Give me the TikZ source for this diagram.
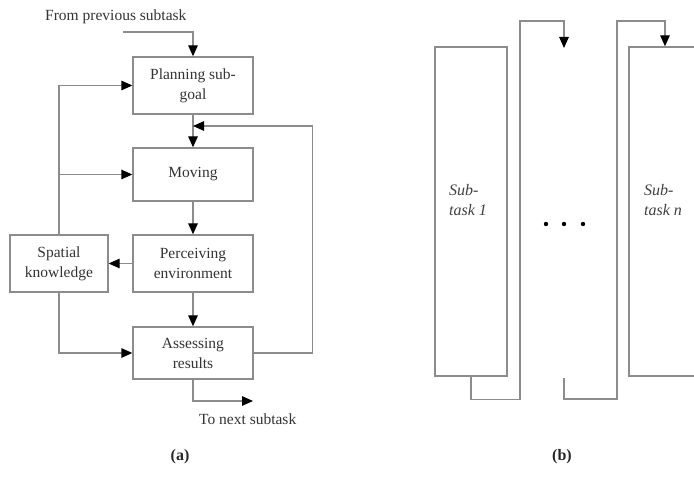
\documentclass[tikz,border=0pt]{standalone}
\usepackage{fontspec}
\setmainfont{Liberation Serif}
\usetikzlibrary{arrows.meta}
\begin{document}
\begin{tikzpicture}[x=1pt,y=-1pt,
  font=\fontsize{15.5}{20}\selectfont,
  line/.style={draw=black!45,line width=1.3pt},
  arr/.style={line,-{Triangle[length=11pt,width=9.5pt,color=black]}},
  block/.style={line,rectangle,inner sep=0pt,align=center,text=black!80},
  label/.style={inner sep=0pt,text=black!80},
  caption/.style={inner sep=0pt,text=black!85,font=\fontsize{16}{20}\selectfont\bfseries},
  stask/.style={inner sep=0pt,align=left,text=black!75,font=\fontsize{16}{20}\selectfont\itshape}]
\useasboundingbox (0,0) rectangle (694,489);

% ---------- (a) loop inside one subtask ----------
\node[block,minimum width=120pt,minimum height=57pt] (plan) at (193,85.5) {Planning sub-\\goal};
\node[block,minimum width=120pt,minimum height=53pt] (moving) at (193,174.5) {Moving};
\node[block,minimum width=120pt,minimum height=57pt] (perc) at (193,263.5) {Perceiving\\environment};
\node[block,minimum width=98pt,minimum height=57pt] (spatial) at (59,263.5) {Spatial\\knowledge};
\node[block,minimum width=120pt,minimum height=52pt] (assess) at (193,353) {Assessing\\results};

\node[label,anchor=west] (fromtxt) at (45,17) {From previous subtask};
\node[label,anchor=west] (totxt) at (199,419) {To next subtask};
\node[caption] (capa) at (180,457) {(a)};

\coordinate (entry) at (123,32);
\coordinate (back) at (193,126);
\coordinate (exit) at (253,401);

\draw[arr] (entry) -| (plan.north);
\draw[arr] (plan.south) -- (moving.north);
\draw[arr] (moving.south) -- (perc.north);
\draw[arr] (perc.south) -- (assess.north);
\draw[arr] (perc.west) -- (spatial.east);
\draw[arr] (spatial.north) |- (plan.west);
\draw[arr] (spatial.north |- moving.west) -- (moving.west);
\draw[arr] (spatial.south) |- (assess.west);
\draw[arr] (assess.east) -- ++(59,0) |- (back);
\draw[arr] (assess.south) |- (exit);

% ---------- (b) chain of subtasks ----------
\node[block,minimum width=72pt,minimum height=329pt] (sub1) at (471,211.5) {};
\node[block,minimum width=131pt,minimum height=329pt] (subn) at (694.5,211.5) {};
\node[stask,anchor=west] (sub1txt) at (449,200) {Sub-\\task 1};
\node[stask,anchor=west] (subntxt) at (644,200) {Sub-\\task \textit{n}};

\coordinate (nextin) at (564,48);
\coordinate (prevout) at (564,378);

\draw[arr] (sub1.south) -- ++(0,23) -| (520,21) -| (nextin);
\draw[arr] (prevout) -- (564,399) -| (617,21) -| (subn.north -| 665,0);

\foreach \x/\n in {546/d1,564/d2,583/d3}
  \fill[black] (\x,224) circle (2.2pt) coordinate (\n);
\node[caption] (capb) at (562,457) {(b)};
\end{tikzpicture}
\end{document}
